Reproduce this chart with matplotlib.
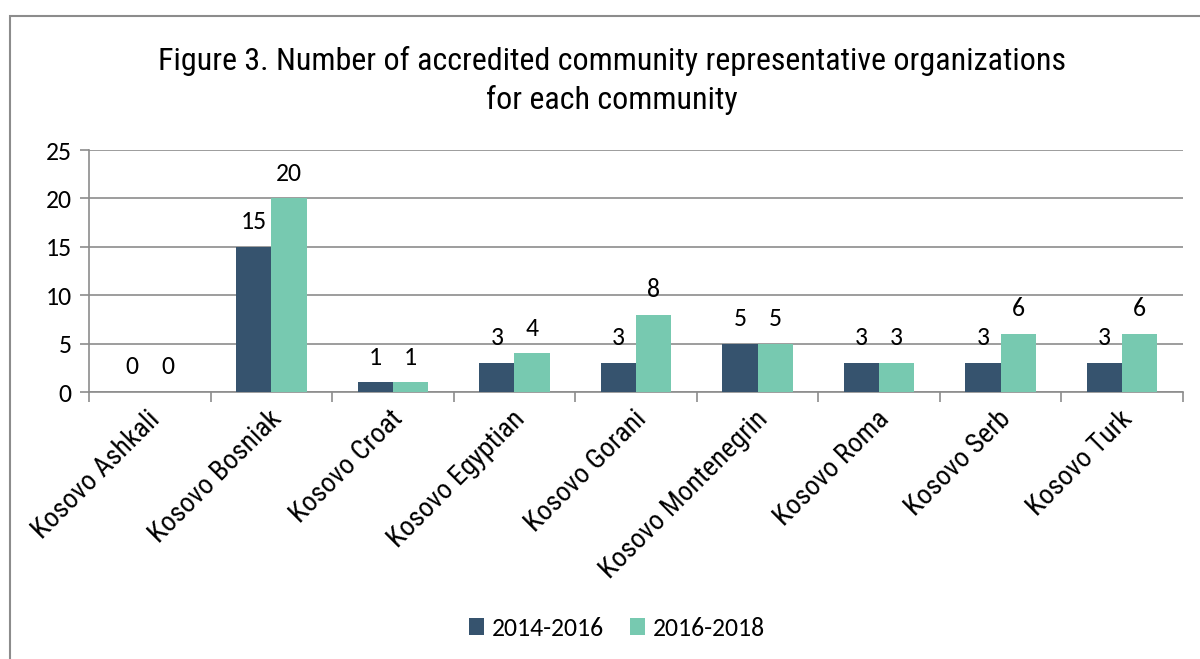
"""
Accredited community representative organizations per community,
grouped bars for the two accreditation periods.
"""

import matplotlib
matplotlib.use("Agg")
import matplotlib.pyplot as plt
from matplotlib.patches import Rectangle
import numpy as np

communities = ['Kosovo Ashkali', 'Kosovo Bosniak', 'Kosovo Croat', 'Kosovo Egyptian',
               'Kosovo Gorani', 'Kosovo Montenegrin', 'Kosovo Roma', 'Kosovo Serb',
               'Kosovo Turk']
period_2014_2016 = [0, 15, 1, 3, 3, 5, 3, 3, 3]
period_2016_2018 = [0, 20, 1, 4, 8, 5, 3, 6, 6]
series_labels = ['2014-2016', '2016-2018']

DARK = '#36536E'
LIGHT = '#77C9B0'
GRID = '#8C8C8C'

narrow = ['Roboto Condensed', 'DejaVu Sans']
body = ['Carlito', 'DejaVu Sans']


def main():
    fig = plt.figure(figsize=(12, 6.59), dpi=100)
    ax = fig.add_axes([89 / 1200, 1 - 392 / 659, (1183 - 89) / 1200, (392 - 150) / 659])

    # outer chart frame (runs off the right and bottom edges)
    frame = Rectangle((10 / 1200, -0.05), 1.1, 1 - 16 / 659 + 0.05,
                      transform=fig.transFigure, fill=False,
                      edgecolor='#8C8C8C', linewidth=1.5, clip_on=False)
    fig.patches.append(frame)

    x = np.arange(len(communities))
    width = 0.29
    b1 = ax.bar(x - width / 2, period_2014_2016, width, color=DARK,
                label=series_labels[0], zorder=3)
    b2 = ax.bar(x + width / 2, period_2016_2018, width, color=LIGHT,
                label=series_labels[1], zorder=3)

    for bars, vals in ((b1, period_2014_2016), (b2, period_2016_2018)):
        for rect, v in zip(bars, vals):
            ax.annotate(str(v), (rect.get_x() + rect.get_width() / 2, v),
                        xytext=(0, 18), textcoords='offset points',
                        ha='center', va='center', fontsize=18.5, family=body)

    ax.set_xlim(-0.5, len(communities) - 0.5)
    ax.set_ylim(0, 25)
    ax.set_yticks(range(0, 26, 5))
    ax.yaxis.grid(True, color=GRID, linewidth=1.2, zorder=0)
    ax.set_axisbelow(True)

    for side in ('top', 'right'):
        ax.spines[side].set_visible(False)
    for side in ('left', 'bottom'):
        ax.spines[side].set_color(GRID)
        ax.spines[side].set_linewidth(1.2)

    ax.tick_params(axis='y', length=6.5, width=1.2, color=GRID, labelsize=18.5, pad=6)
    for lab in ax.get_yticklabels():
        lab.set_family(body)

    # category boundaries carry the tick marks, names sit at the centres
    ax.set_xticks(np.arange(-0.5, len(communities), 1.0))
    ax.set_xticklabels([])
    ax.tick_params(axis='x', length=7, width=1.2, color=GRID)
    for xi, name in zip(x, communities):
        ax.text(xi - 0.03, -1.4, name, rotation=45, ha='right', va='top',
                rotation_mode='anchor', fontsize=20, family=narrow)

    fig.text(0.51, 1 - 61 / 659, 'Figure 3. Number of accredited community representative organizations',
             ha='center', va='center', fontsize=23, family=narrow)
    fig.text(0.51, 1 - 100 / 659, 'for each community',
             ha='center', va='center', fontsize=23, family=narrow)

    fig.legend(handles=[b1, b2], labels=series_labels, loc='center',
               bbox_to_anchor=(617 / 1200, 1 - 628 / 659), ncol=2, frameon=False,
               prop={'family': body, 'size': 18.5}, handlelength=0.6,
               handleheight=0.6, handletextpad=0.3, columnspacing=1.0)

    fig.savefig('out.png', dpi=100)


if __name__ == "__main__":
    main()
